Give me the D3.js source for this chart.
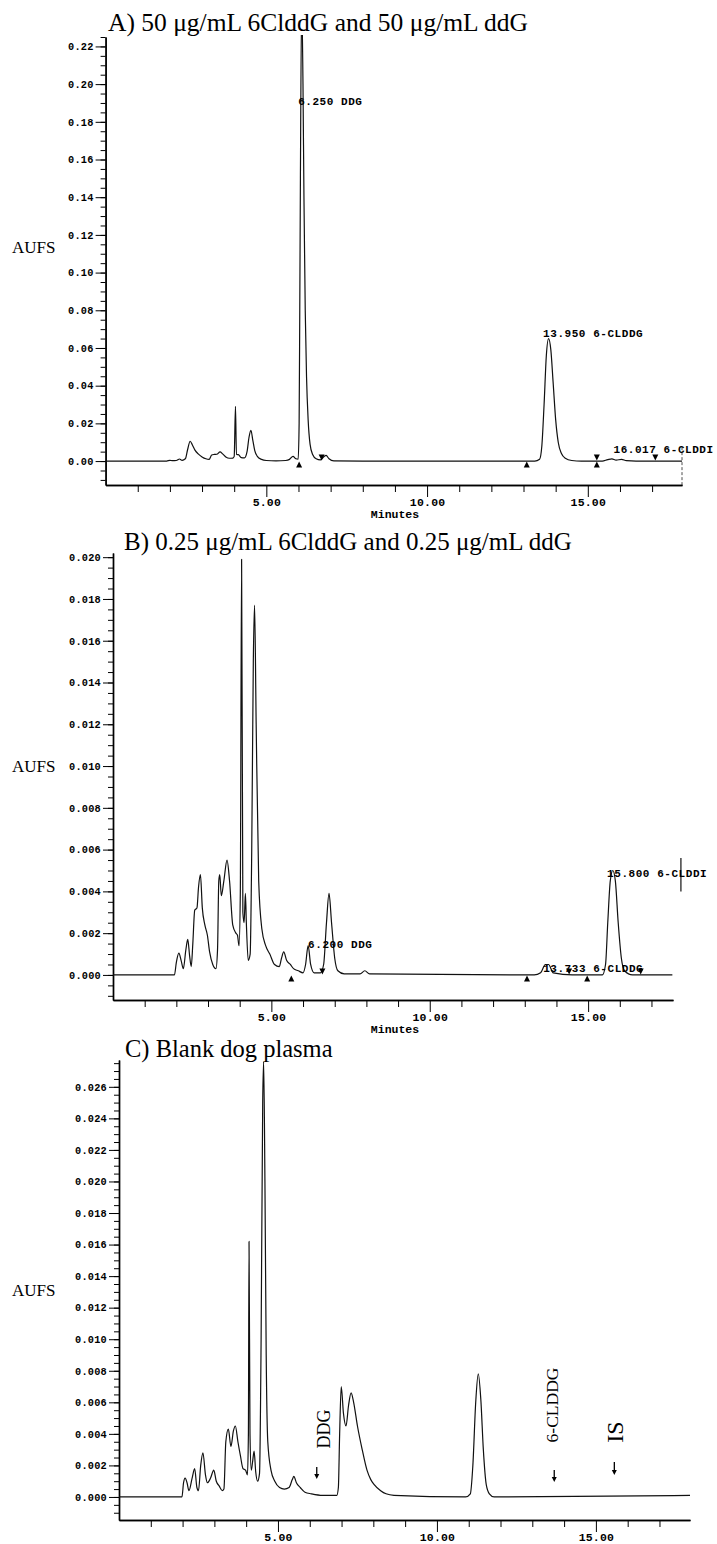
<!DOCTYPE html>
<html>
<head>
<meta charset="utf-8">
<script src="https://cdn.jsdelivr.net/npm/d3@7"></script>
<style>
body { margin: 0; background: #fff; }
svg { display: block; }
.serif { font-family: "Liberation Serif", "DejaVu Serif", serif; }
.mono { font-family: "Liberation Mono", "DejaVu Sans Mono", monospace; font-weight: bold; }
</style>
</head>
<body>
<svg id="chart" width="717" height="1544"></svg>
<script>
// chromatogram traces, [minutes, AUFS]
const traceA = [[0,0],[1.9,0],[2.0,0.0004],[2.08,0.0002],[2.2,0.0003],[2.3,0.0011],[2.38,0.0004],[2.48,0.0012],[2.55,0.006],[2.63,0.0105],[2.7,0.0085],[2.78,0.0058],[2.88,0.0038],[3.0,0.0022],[3.12,0.0012],[3.22,0.0009],[3.3,0.0032],[3.38,0.0035],[3.46,0.0036],[3.56,0.0049],[3.64,0.0038],[3.74,0.0022],[3.85,0.0015],[3.96,0.0016],[4.0,0.0025],[4.04,0.029],[4.07,0.0035],[4.13,0.0034],[4.22,0.0018],[4.32,0.0017],[4.4,0.005],[4.46,0.0125],[4.52,0.0163],[4.58,0.011],[4.64,0.0055],[4.72,0.0025],[4.85,0.0009],[5.0,0.0003],[5.3,0.0001],[5.6,0.0003],[5.72,0.0009],[5.83,0.0025],[5.92,0.0012],[5.99,0.001],[6.02,0.02],[6.04,0.08],[6.06,0.15],[6.1,0.245],[6.14,0.2],[6.17,0.14],[6.21,0.08],[6.25,0.045],[6.3,0.022],[6.36,0.009],[6.44,0.0035],[6.55,0.0012],[6.68,0.0006],[6.78,0.0022],[6.86,0.003],[6.95,0.0012],[7.1,0.0001],[8,0],[13.35,0],[13.5,0.001],[13.57,0.008],[13.64,0.03],[13.71,0.056],[13.78,0.065],[13.85,0.059],[13.92,0.042],[14.0,0.022],[14.08,0.01],[14.18,0.004],[14.3,0.0015],[14.5,0.0003],[14.8,0],[15.45,0],[15.62,0.0008],[15.75,0.0012],[15.88,0.0005],[16.05,0.0009],[16.2,0.0002],[16.5,0],[17.93,0]];

const traceB = [[0,0],[1.94,0],[2.0,0.0006],[2.08,0.00104],[2.15,0.0007],[2.22,0.0003],[2.3,0.0012],[2.36,0.0017],[2.42,0.0009],[2.47,0.0004],[2.52,0.0015],[2.58,0.0031],[2.65,0.0032],[2.7,0.0042],[2.76,0.0048],[2.82,0.0032],[2.9,0.0024],[2.98,0.0019],[3.05,0.0011],[3.15,0.0005],[3.25,0.0003],[3.3,0.0012],[3.34,0.0045],[3.37,0.0048],[3.42,0.0038],[3.5,0.0045],[3.6,0.0055],[3.68,0.0045],[3.78,0.0024],[3.88,0.002],[3.93,0.0019],[3.98,0.0014],[4.02,0.004],[4.06,0.0199],[4.1,0.003],[4.14,0.0025],[4.18,0.0039],[4.21,0.0025],[4.27,0.0007],[4.33,0.001],[4.38,0.006],[4.43,0.015],[4.47,0.0177],[4.52,0.012],[4.6,0.0045],[4.7,0.0022],[4.82,0.0014],[4.95,0.001],[5.1,0.0005],[5.25,0.0004],[5.32,0.0008],[5.39,0.0011],[5.48,0.0007],[5.6,0.0005],[5.7,0.0003],[5.85,0.0002],[6.0,0.0001],[6.08,0.0005],[6.16,0.0014],[6.24,0.0005],[6.35,0.0001],[6.55,0.0001],[6.65,0.0005],[6.74,0.0025],[6.82,0.0039],[6.9,0.0025],[7.0,0.0008],[7.1,0.0002],[7.3,0.00005],[7.8,0.00005],[7.95,0.0002],[8.1,0.00005],[13.3,0],[13.5,0.0001],[13.65,0.0005],[13.75,0.0005],[13.9,0.0001],[14.5,0],[15.45,0],[15.55,0.0005],[15.62,0.0025],[15.7,0.0045],[15.78,0.005],[15.86,0.0045],[15.95,0.0025],[16.05,0.0008],[16.15,0.0002],[16.4,0],[17.66,0]];

const traceC = [[0,0],[1.98,0],[2.03,0.0009],[2.08,0.0012],[2.14,0.0009],[2.2,0.0004],[2.3,0.0012],[2.38,0.0018],[2.45,0.0006],[2.5,0.0004],[2.57,0.002],[2.64,0.0028],[2.72,0.0014],[2.78,0.0009],[2.88,0.0012],[2.98,0.0017],[3.06,0.001],[3.15,0.0007],[3.25,0.0004],[3.3,0.0005],[3.36,0.0035],[3.44,0.0043],[3.52,0.0032],[3.6,0.0042],[3.66,0.0045],[3.74,0.0035],[3.82,0.0026],[3.9,0.0018],[3.98,0.0017],[4.04,0.0014],[4.07,0.004],[4.09,0.0162],[4.12,0.004],[4.16,0.0017],[4.2,0.0022],[4.25,0.0029],[4.3,0.0016],[4.36,0.001],[4.42,0.0015],[4.47,0.01],[4.52,0.025],[4.55,0.0276],[4.59,0.02],[4.63,0.009],[4.68,0.0035],[4.78,0.0017],[4.9,0.001],[5.05,0.0006],[5.2,0.0005],[5.35,0.0006],[5.45,0.0011],[5.5,0.0013],[5.58,0.0009],[5.7,0.0006],[5.85,0.0003],[6.05,0.0002],[6.4,0.0001],[6.85,0.0001],[6.9,0.0006],[6.94,0.004],[6.99,0.007],[7.06,0.0053],[7.14,0.0045],[7.22,0.0058],[7.3,0.0066],[7.38,0.006],[7.5,0.0045],[7.65,0.003],[7.8,0.0017],[7.92,0.0011],[8.02,0.0008],[8.23,0.0004],[8.4,0.0002],[8.65,0.0001],[10.9,0],[11.05,0.0002],[11.13,0.002],[11.22,0.006],[11.3,0.0078],[11.38,0.0062],[11.46,0.003],[11.55,0.0008],[11.65,0.0002],[11.8,0],[17.96,0.0001]];

// integration markers: minutes and direction
const markersA = [[6.02,"up"],[6.72,"down"],[13.1,"up"],[15.28,"down"],[15.28,"up"],[17.1,"down"]];
const markersB = [[5.63,"up"],[6.61,"down"],[13.07,"up"],[14.4,"down"],[14.97,"up"],[16.66,"down"]];

// peak labels: text, minutes, AUFS
const peaksA = [["6.250 DDG",5.99,0.189],["13.950 6-CLDDG",13.61,0.0658],["16.017 6-CLDDI",15.8,0.0042]];
const peaksB = [["6.200 DDG",6.16,0.00129],["13.733 6-CLDDG",13.58,0.00014],["15.800 6-CLDDI",15.6,0.00469]];

// expected retention positions in the blank
const arrowsC = [["DDG",6.22],["6-CLDDG",13.69],["IS",15.58]];

const titles = ["A) 50 \u03bcg/mL 6ClddG and 50 \u03bcg/mL ddG","B) 0.25 \u03bcg/mL 6ClddG and 0.25 \u03bcg/mL ddG","C) Blank dog plasma"];
const yTicksA = [0,0.02,0.04,0.06,0.08,0.10,0.12,0.14,0.16,0.18,0.20,0.22];
const yTicksB = [0,0.002,0.004,0.006,0.008,0.010,0.012,0.014,0.016,0.018,0.020];
const yTicksC = [0,0.002,0.004,0.006,0.008,0.010,0.012,0.014,0.016,0.018,0.020,0.022,0.024,0.026];
const xTicks = [5,10,15];
const xMinorTicks = [1,2,3,4,6,7,8,9,11,12,13,14,16,17];

const svg = d3.select("#chart");

function drawPanel(p) {
    let x = d3.scaleLinear().domain([0, p.xMax]).range([p.x0, p.x1]);
    let y = d3.scaleLinear().domain([p.yMin, p.yMax]).range([p.yBottom, p.yTop]);
    let g = svg.append("g");

    svg.append("clipPath").attr("id", "clip" + p.id)
        .append("rect")
        .attr("x", p.x0).attr("y", p.yTop - 2)
        .attr("width", p.x1 - p.x0 + 2).attr("height", p.yBottom - p.yTop + 2);

    // y axis: minor then labelled ticks
    let minor = d3.range(p.minorStart, p.yMax + 1e-9, p.minorStep);
    g.append("g").attr("transform", `translate(${p.x0},0)`)
        .call(d3.axisLeft(y).tickValues(minor).tickSize(5).tickSizeOuter(0).tickFormat(""));
    let yAx = g.append("g").attr("class", "mono").attr("transform", `translate(${p.x0},0)`)
        .call(d3.axisLeft(y).tickValues(p.yTicks).tickSize(10).tickPadding(2).tickSizeOuter(0).tickFormat(d3.format(p.fmt)));

    // x axis
    g.append("g").attr("transform", `translate(0,${p.yBottom})`)
        .call(d3.axisBottom(x).tickValues(xMinorTicks).tickSize(7).tickSizeOuter(0).tickFormat(""));
    let xAx = g.append("g").attr("class", "mono").attr("transform", `translate(0,${p.yBottom})`)
        .call(d3.axisBottom(x).tickValues(xTicks).tickSize(12).tickPadding(1).tickSizeOuter(0).tickFormat(d3.format(".2f")));

    g.selectAll(".domain").attr("stroke-width", 1.4);
    g.selectAll(".tick line").attr("stroke-width", 1);
    yAx.selectAll(".tick text").attr("font-size", 10.3).attr("letter-spacing", 0.2).attr("fill", "#000");
    xAx.selectAll(".tick text").attr("font-size", 11.5).attr("letter-spacing", 0.2).attr("fill", "#000");

    if (p.minutes) {
        g.append("text").attr("class", "mono")
            .attr("x", 395).attr("y", p.yBottom + 33)
            .attr("text-anchor", "middle").attr("font-size", 11.5)
            .text("Minutes");
    }

    // title and AUFS label
    svg.append("text").attr("class", "serif")
        .attr("x", p.titleX).attr("y", p.titleY)
        .attr("font-size", p.titleSize)
        .text(p.title);
    svg.append("text").attr("class", "serif")
        .attr("x", 12).attr("y", p.aufsY)
        .attr("font-size", 17)
        .text("AUFS");

    // trace
    let line = d3.line()
        .x(d => x(d[0]))
        .y(d => y(d[1]))
        .curve(d3.curveMonotoneX);
    svg.append("path")
        .datum(p.trace)
        .attr("clip-path", `url(#clip${p.id})`)
        .attr("d", line)
        .attr("fill", "none")
        .attr("stroke", "#111")
        .attr("stroke-width", 1.2)
        .attr("stroke-linejoin", "round");

    // integration markers
    let y0 = y(0);
    svg.selectAll(".mk" + p.id)
        .data(p.markers || [])
        .join("path")
        .attr("class", "mk" + p.id)
        .attr("d", d => {
            let cx = x(d[0]);
            return d[1] === "up"
                ? `M${cx},${y0 + 0.5}L${cx - 3},${y0 + 6.5}L${cx + 3},${y0 + 6.5}Z`
                : `M${cx},${y0 - 0.5}L${cx - 3},${y0 - 6.5}L${cx + 3},${y0 - 6.5}Z`;
        })
        .attr("fill", "#000");

    // peak labels
    svg.selectAll(".pk" + p.id)
        .data(p.peaks || [])
        .join("text")
        .attr("class", "mono pk" + p.id)
        .attr("x", d => x(d[1]))
        .attr("y", d => y(d[2]))
        .attr("font-size", 11)
        .attr("letter-spacing", 0.55)
        .text(d => d[0]);

    return {x, y, g};
}

let A = drawPanel({
    id: "A", trace: traceA, markers: markersA, peaks: peaksA, title: titles[0],
    xMax: 17.93, x0: 105.6, x1: 682, yMin: -0.0127, yMax: 0.225, yTop: 37, yBottom: 485,
    yTicks: yTicksA, minorStart: -0.01, minorStep: 0.005, fmt: ".2f",
    titleX: 108, titleY: 31, titleSize: 25.5, aufsY: 253, minutes: true
});
// dashed end-of-run line
A.g.append("line")
    .attr("x1", A.x(17.93)).attr("x2", A.x(17.93))
    .attr("y1", A.y(0.0074)).attr("y2", A.y(-0.0127))
    .attr("stroke", "#222").attr("stroke-width", 0.8).attr("stroke-dasharray", "3,2");

let B = drawPanel({
    id: "B", trace: traceB, markers: markersB, peaks: peaksB, title: titles[1],
    xMax: 17.68, x0: 113, x1: 673, yMin: -0.0012, yMax: 0.0202, yTop: 553, yBottom: 1000,
    yTicks: yTicksB, minorStart: -0.001, minorStep: 0.0005, fmt: ".3f",
    titleX: 124, titleY: 550, titleSize: 25, aufsY: 772, minutes: true
});
B.g.append("line")
    .attr("x1", B.x(17.93)).attr("x2", B.x(17.93))
    .attr("y1", B.y(0.0056)).attr("y2", B.y(0.0040))
    .attr("stroke", "#111").attr("stroke-width", 1.2);

let C = drawPanel({
    id: "C", trace: traceC, title: titles[2],
    xMax: 17.96, x0: 119, x1: 690, yMin: -0.00146, yMax: 0.0277, yTop: 1060, yBottom: 1520,
    yTicks: yTicksC, minorStart: -0.001, minorStep: 0.0005, fmt: ".3f",
    titleX: 125, titleY: 1057, titleSize: 24.5, aufsY: 1296, minutes: false
});

// arrows and rotated labels for panel C
const arrowStyle = {DDG: {top: 30, bot: 18, dx: 13, cy: 68, fs: 18},
                    "6-CLDDG": {top: 27, bot: 15, dx: 4, cy: 92, fs: 17.5},
                    IS: {top: 35, bot: 22, dx: 9, cy: 65, fs: 24}};
let c0 = C.y(0);
arrowsC.forEach(([name, t]) => {
    let s = arrowStyle[name];
    let ax = C.x(t);
    svg.append("line")
        .attr("x1", ax).attr("x2", ax)
        .attr("y1", c0 - s.top).attr("y2", c0 - s.bot - 3)
        .attr("stroke", "#000").attr("stroke-width", 1.3);
    svg.append("path")
        .attr("d", `M${ax - 2.5},${c0 - s.bot - 5}L${ax + 2.5},${c0 - s.bot - 5}L${ax},${c0 - s.bot}Z`)
        .attr("fill", "#000");
    svg.append("text").attr("class", "serif")
        .attr("transform", `translate(${ax + s.dx},${c0 - s.cy}) rotate(-90)`)
        .attr("text-anchor", "middle")
        .attr("font-size", s.fs)
        .text(name);
});
</script>
</body>
</html>
